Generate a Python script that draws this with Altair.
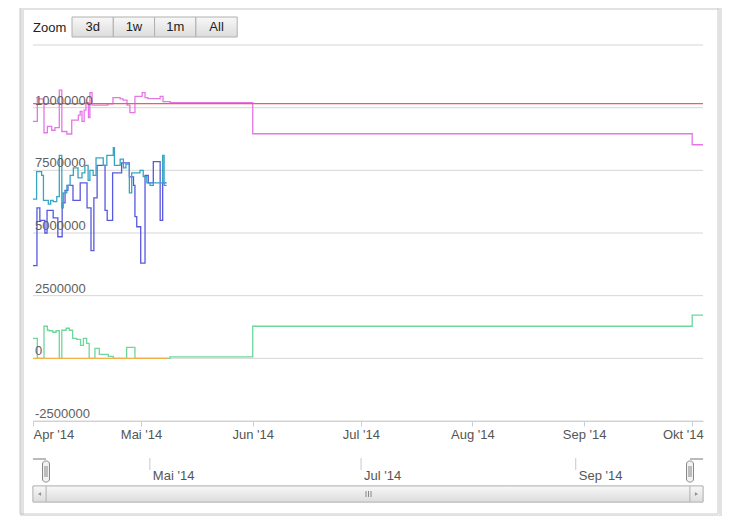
import altair as alt
import pandas as pd

BASE = pd.Timestamp("2014-04-01")
MONTHS = "['Jan','Feb','Mär','Apr','Mai','Jun','Jul','Aug','Sep','Okt','Nov','Dez']"

# ---------------- data (day offsets from 2014-04-01, values) ----------------
red_day = [0, 186]
red_val = [10160000, 10160000]

magenta_day = [0, 1.2, 3.05, 4.0, 5.2, 6.1, 7.3, 8.0, 9.4, 10.75,
               12.6, 13.1, 13.6, 14.2, 14.7, 15.4, 15.8, 16.4, 20.8, 22.2,
               24.2, 25.0, 26.1, 26.9, 28.3, 30.3, 31.1, 31.9, 35.3, 36.1,
               38.1, 61, 183, 186]
magenta_val = [9450000, 10350000, 9000000, 9250000, 9100000, 9200000, 10700000, 9050000, 8950000, 9500000,
               9700000, 9850000, 9450000, 9900000, 10200000, 9600000, 10600000, 10100000, 10150000, 10400000,
               10350000, 10300000, 10100000, 9800000, 10450000, 10600000, 10400000, 10360000, 10450000, 10240000,
               10200000, 8960000, 8520000, 8520000]

cyan_day = [0, 1.0, 2.4, 2.9, 4.25, 4.9, 5.6, 6.6, 7.3, 8.0,
            8.4, 9.4, 10.3, 11.2, 12.5, 13.6, 14.4, 15.3, 15.8, 16.7,
            17.5, 19.5, 20.5, 22.3, 22.6, 24.2, 25.1, 25.8, 26.75, 27.4,
            29.7, 30.6, 31.6, 32.5, 33.4, 36.0, 36.4, 37.1]
cyan_val = [6350000, 7450000, 7300000, 6300000, 6150000, 6300000, 6250000, 6450000, 8100000, 6000000,
            6600000, 6900000, 7300000, 7600000, 7200000, 7400000, 7700000, 7100000, 7500000, 7300000,
            8000000, 7700000, 8100000, 8400000, 7700000, 7950000, 7600000, 7750000, 6600000, 7400000,
            7500000, 7250000, 7000000, 6900000, 7000000, 8100000, 6900000, 6900000]

blue_day = [0, 1.1, 1.9, 3.3, 3.9, 5.6, 6.9, 8.1, 8.9, 9.7,
            11.1, 13.1, 15.0, 16.1, 16.9, 17.8, 20.0, 20.6, 22.1, 24.6,
            26.75, 27.9, 28.3, 28.8, 29.9, 31.1, 32.0, 33.4, 35.3, 36.0,
            37.1]
blue_val = [3700000, 6000000, 5500000, 5000000, 5900000, 5600000, 4850000, 6200000, 6700000, 6900000,
            6300000, 7000000, 6000000, 4300000, 6400000, 7700000, 5900000, 5500000, 7400000, 7800000,
            7240000, 6900000, 5650000, 5250000, 3800000, 7300000, 7000000, 7850000, 5500000, 7000000,
            7000000]

green_day = [0, 1.2, 3.05, 4.0, 4.5, 5.5, 6.4, 7.3, 8.0, 9.2,
             10.1, 11.0, 12.1, 13.2, 14.0, 14.9, 15.6, 17.2, 18.4, 20.9,
             22.3, 26.0, 28.3, 38.0, 61, 183, 186]
green_val = [800000, 0, 1280000, 1120000, 1100000, 1040000, 1100000, 0, 1120000, 1200000,
             1120000, 800000, 760000, 520000, 800000, 600000, 0, 400000, 160000, 80000,
             0, 440000, 0, 60000, 1280000, 1720000, 1720000]

orange_day = [0, 37.5]
orange_val = [0, 0]

series_names = ["s_green", "s_orange", "s_blue", "s_cyan", "s_magenta", "s_red"]
series_colors = ["#6fd69c", "#f5b04a", "#5858e0", "#36a5c4", "#e676e6", "#f25c5c"]
series_days = [green_day, orange_day, blue_day, cyan_day, magenta_day, red_day]
series_vals = [green_val, orange_val, blue_val, cyan_val, magenta_val, red_val]

y_ticks = [-2500000, 0, 2500000, 5000000, 7500000, 10000000, 12500000]
y_labels = ["-2500000", "0", "2500000", "5000000", "7500000", "10000000", ""]

month_ticks = [4, 5, 6, 7, 8, 9, 10]
nav_months = ["2014-05-01T00:00:00", "2014-07-01T00:00:00", "2014-09-01T00:00:00"]
buttons = ["3d", "1w", "1m", "All"]

# ---------------- helpers ----------------
def to_iso(d):
    return (BASE + pd.Timedelta(days=d)).strftime("%Y-%m-%dT%H:%M:%S")

x_dom = [alt.DateTime(year=2014, month=4, date=1), alt.DateTime(year=2014, month=10, date=4)]
y_scale = alt.Scale(domain=[-2500000, 12500000], nice=False, zero=False)
FONT = "Liberation Sans"

x_axis = alt.Axis(
    values=[alt.DateTime(year=2014, month=m, date=1) for m in month_ticks],
    labelExpr=MONTHS + "[month(datum.value)] + \" '\" + timeFormat(datum.value, '%y')",
    labelAlign=alt.ExprRef(expr="month(datum.value)==3 ? 'left' : (month(datum.value)==9 ? 'right' : 'center')"),
    labelOffset=alt.ExprRef(expr="month(datum.value)==9 ? 11 : 0"),
    domainColor="#C0D0E0", tickColor="#C0D0E0", tickSize=5, labelPadding=2,
    labelColor="#555555", labelFontSize=13, labelFont=FONT, grid=False, title=None,
)

# gridlines
grid_df = pd.DataFrame({"tick": y_ticks, "label": y_labels})
grid = alt.Chart(grid_df).mark_rule(color="#d6d6d6", strokeWidth=1).encode(
    y=alt.Y("tick:Q", scale=y_scale, axis=None)
)
ylab = alt.Chart(grid_df).mark_text(
    align="left", baseline="alphabetic", dx=0, dy=-3, fontSize=13, font=FONT, color="#606060"
).encode(
    x=alt.value(2), y=alt.Y("tick:Q", scale=y_scale, axis=None), text="label:N"
)

series_layers = []
for name, col, days, vals in zip(series_names, series_colors, series_days, series_vals):
    df = pd.DataFrame({"date": [to_iso(d) for d in days], "value": vals})
    series_layers.append(
        alt.Chart(df).mark_line(interpolate="step-after", color=col, strokeWidth=1.3).encode(
            x=alt.X("date:T", scale=alt.Scale(domain=x_dom), axis=x_axis),
            y=alt.Y("value:Q", scale=y_scale, axis=None),
        )
    )

main = alt.layer(grid, *series_layers, ylab)

# ---------------- navigator ----------------
nav_scale = alt.Scale(domain=x_dom, range=[13, 657])
nav_df = pd.DataFrame({"date": nav_months})
nav_base = alt.Chart(nav_df).transform_calculate(
    lab=MONTHS + "[month(datum.date)] + \" '\" + timeFormat(datum.date, '%y')"
)
nav_ticks = nav_base.mark_rule(color="#c8c8c8").encode(
    x=alt.X("date:T", scale=nav_scale, axis=None), y=alt.value(413), y2=alt.value(425)
)
nav_text = nav_base.mark_text(align="left", baseline="middle", dx=3, fontSize=13, font=FONT, color="#555555").encode(
    x=alt.X("date:T", scale=nav_scale, axis=None), y=alt.value(431), text="lab:N"
)
nav = alt.layer(nav_ticks, nav_text)

one = pd.DataFrame({"a": [0]})
grad_v = alt.LinearGradient(gradient="linear", x1=0, x2=0, y1=0, y2=1,
                            stops=[alt.GradientStop(color="#f8f8f8", offset=0),
                                   alt.GradientStop(color="#dcdcdc", offset=1)])

def rect(x0, x1, y0, y1, **kw):
    return alt.Chart(one).mark_rect(**kw).encode(
        x=alt.value(x0), x2=alt.value(x1), y=alt.value(y0), y2=alt.value(y1))

def rule(x0, x1, y0, y1, **kw):
    return alt.Chart(one).mark_rule(**kw).encode(
        x=alt.value(x0), x2=alt.value(x1), y=alt.value(y0), y2=alt.value(y1))

chrome = [
    # frame
    rect(-11, 688, -37, 472, fillOpacity=0, stroke="#d0d0d0", strokeWidth=4, opacity=0.6),
    rect(-13, 685, -39, 469, fillOpacity=0, stroke="#c8c8c8", strokeWidth=1),
    # navigator outline
    rule(0, 13, 414, 414, color="#777777"),
    rule(657, 670, 414, 414, color="#777777"),
    # scrollbar
    rect(0, 670, 441, 457, fill="#eeeeee", stroke="#bbbbbb"),
    rect(13, 657, 441, 457, fill=grad_v, stroke="#bbbbbb"),
    rect(0, 13, 441, 457, fill=grad_v, stroke="#bbbbbb"),
    rect(657, 670, 441, 457, fill=grad_v, stroke="#bbbbbb"),
    rule(333, 333, 446, 452, color="#888888"),
    rule(335.5, 335.5, 446, 452, color="#888888"),
    rule(338, 338, 446, 452, color="#888888"),
    # handles
    rect(9.5, 16.5, 416, 437, fill="#f2f2f2", stroke="#888888", cornerRadius=3),
    rect(653.5, 660.5, 416, 437, fill="#f2f2f2", stroke="#888888", cornerRadius=3),
    rule(12, 12, 421, 432, color="#888888"),
    rule(14, 14, 421, 432, color="#888888"),
    rule(656, 656, 421, 432, color="#888888"),
    rule(658, 658, 421, 432, color="#888888"),
    alt.Chart(one).mark_point(shape="triangle-left", size=14, filled=True, color="#666666").encode(
        x=alt.value(6.5), y=alt.value(449)),
    alt.Chart(one).mark_point(shape="triangle-right", size=14, filled=True, color="#666666").encode(
        x=alt.value(663.5), y=alt.value(449)),
]

# zoom buttons
btn_df = pd.DataFrame({"label": buttons, "i": list(range(len(buttons)))})
btn_base = alt.Chart(btn_df).transform_calculate(
    x0="39 + datum.i*41.3", x1="39 + (datum.i+1)*41.3", xm="39 + (datum.i+0.5)*41.3"
)
btn_rect = btn_base.mark_rect(fill=grad_v, stroke="#b0b0b0", strokeWidth=1).encode(
    x=alt.X("x0:Q", scale=None), x2="x1:Q", y=alt.value(-28), y2=alt.value(-8)
)
btn_text = btn_base.mark_text(fontSize=13, font=FONT, color="#222222", baseline="middle").encode(
    x=alt.X("xm:Q", scale=None), y=alt.value(-18), text="label:N"
)
zoom_lab = alt.Chart(one).mark_text(text="Zoom", align="left", baseline="middle", fontSize=13,
                                    font=FONT, color="#222222").encode(x=alt.value(0), y=alt.value(-17))

chart = alt.layer(main, nav, *chrome, btn_rect, btn_text, zoom_lab).resolve_scale(
    x="independent"
).properties(
    width=670, height=376,
    autosize=alt.AutoSizeParams(type="none"),
    padding={"left": 25, "top": 37, "right": 19, "bottom": 95},
    background="white",
).configure_view(stroke=None)

chart.save("out.html", embed_options={"renderer": "svg", "actions": False})
